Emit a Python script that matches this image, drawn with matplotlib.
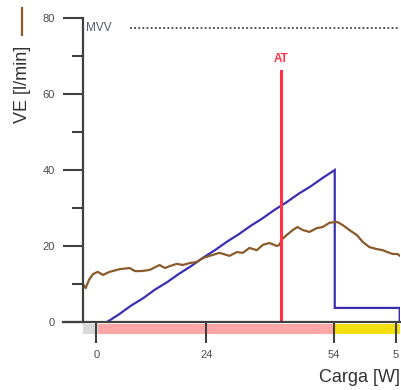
import matplotlib
matplotlib.use("Agg")
import matplotlib.pyplot as plt
from matplotlib.lines import Line2D
from matplotlib.patches import Rectangle
import matplotlib.transforms as mtransforms

plt.rcParams['font.family'] = ['Liberation Sans', 'DejaVu Sans']

# Time axis in seconds
x_max = 476

# Ventilation (VE, l/min) over time
ve_t = [0, 4, 9, 15, 22, 30, 40, 55, 70, 78, 88, 100, 115, 123, 130, 141, 150,
        160, 171, 180, 190, 205, 220, 231, 240, 250, 261, 270, 280, 291, 295,
        299, 306, 315, 322, 330, 340, 351, 360, 370, 378, 382, 390, 400, 411,
        420, 430, 441, 450, 457, 465, 472, 476]
ve_val = [10.0, 8.9, 11.1, 12.6, 13.2, 12.4, 13.2, 13.9, 14.2, 13.4, 13.4, 13.7,
          15.0, 14.2, 14.7, 15.3, 15.0, 15.5, 15.8, 16.8, 17.4, 18.2, 17.4, 18.4,
          18.2, 19.5, 18.9, 20.3, 20.8, 20.0, 20.3, 21.8, 22.9, 24.2, 25.0, 24.2,
          23.7, 24.7, 25.0, 26.1, 26.3, 26.3, 25.5, 24.2, 22.9, 21.1, 19.7, 19.2,
          18.9, 18.4, 17.9, 17.9, 17.4]

# Work rate (W) over time
load_t = [36, 54, 72, 90, 108, 126, 144, 162, 180, 198, 216, 234, 252, 270,
          288, 306, 324, 342, 360, 378, 378, 475.5, 475.5]
load_w = [0, 2.7, 5.8, 8.4, 11.5, 14.1, 17.1, 19.8, 22.8, 25.5, 28.5, 31.2,
          34.2, 36.9, 39.9, 42.6, 45.6, 48.2, 51.2, 54, 5, 5, 0]

# Reference levels
mvv = 77.4
at_time = 297
at_top = 66

# Protocol phases: rest, ramp, recovery
phase_start = [0, 22, 377]
phase_end = [22, 377, 476]
phase_colors = ['#d9d9d9', '#ffa6a6', '#f4e010']

x_ticks = [20, 185, 377, 470]
x_tick_labels = ['0', '24', '54', '5']

axis_col = '#404040'
label_col = '#4a4a4a'
brown = '#8b5a2b'
blue = '#3a2fb0'
red = '#ff3348'

fig = plt.figure(figsize=(4.02, 3.90), dpi=100)
ax = fig.add_axes([83 / 402, 1 - 322 / 390, 317 / 402, 304 / 390])
ax2 = ax.twinx()
ax.set_zorder(ax2.get_zorder() + 1)
ax.patch.set_visible(False)

# Work rate on a hidden secondary scale
ax2.plot(load_t, load_w, color=blue, lw=1.6, solid_joinstyle='miter')
ax2.set_ylim(0, 108)
ax2.set_xlim(0, x_max)
ax2.axis('off')

ax.plot(ve_t, ve_val, color=brown, lw=1.6)
ax.plot([70, x_max], [mvv, mvv], color='#444444', lw=1.3,
        linestyle=(0, (1, 1.3)), clip_on=False)
ax.text(0.008 * x_max, mvv, 'MVV', color='#505a70', fontsize=8.5,
        va='center', ha='left')
ax.plot([at_time, at_time], [0.8, at_top], color=red, lw=2.2)
ax.text(at_time, at_top + 3.2, 'AT', color=red, fontsize=8.5,
        fontweight='bold', ha='center', va='center')

ax.set_xlim(0, x_max)
ax.set_ylim(0, 80)

for s in ['top', 'right']:
    ax.spines[s].set_visible(False)
for s in ['left', 'bottom']:
    ax.spines[s].set_color(axis_col)
    ax.spines[s].set_linewidth(1.6)

ax.set_yticks([0, 20, 40, 60, 80])
ax.set_yticks([10, 30, 50, 70], minor=True)
ax.tick_params(axis='y', which='major', length=14.5, width=1.5, color=axis_col,
               labelcolor=label_col, labelsize=8, pad=6)
ax.tick_params(axis='y', which='minor', length=8, width=1.5, color=axis_col)

ax.set_xticks(x_ticks)
ax.set_xticklabels(x_tick_labels)
ax.tick_params(axis='x', which='major', length=15, width=1.5, color=axis_col,
               labelcolor=label_col, labelsize=8, pad=5)

# Extend the baseline to the left of the vertical axis
ax.add_line(Line2D([-20 / 317, 0], [0, 0], transform=ax.transAxes,
                   color=axis_col, lw=1.6, clip_on=False))

# Phase band below the baseline
trans = mtransforms.blended_transform_factory(ax.transData, ax.transAxes)
for x0, x1, c in zip(phase_start, phase_end, phase_colors):
    ax.add_patch(Rectangle((x0, -11.5 / 304), x1 - x0, 10 / 304,
                           transform=trans, facecolor=c, edgecolor='none',
                           clip_on=False, zorder=0.5))

fig.text(400 / 402, 1 - 377 / 390, 'Carga [W]', fontsize=13, color='#333333',
         ha='right', va='center')
fig.text(23 / 402, 1 - 84 / 390, 'VE [l/min]', fontsize=13, color='#333333',
         rotation=90, ha='center', va='center')
fig.add_artist(Line2D([22 / 402, 22 / 402], [1 - 8 / 390, 1 - 35 / 390],
                      color=brown, lw=1.6))

fig.savefig('out.png', dpi=100)
